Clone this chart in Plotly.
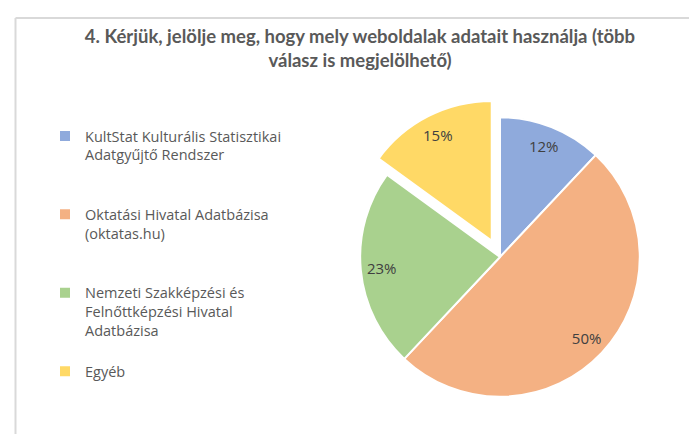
import plotly.graph_objects as go

labels = [
    "KultStat Kulturális Statisztikai<br>Adatgyűjtő Rendszer<br> <br> ",
    "Oktatási Hivatal Adatbázisa<br>(oktatas.hu)<br> <br> ",
    "Nemzeti Szakképzési és<br>Felnőttképzési Hivatal<br>Adatbázisa<br> ",
    "Egyéb",
]
values = [12, 50, 23, 15]
colors = ["#8FAADC", "#F4B183", "#A9D18E", "#FFD966"]
pulls = [0, 0, 0, 0.13]

W, H = 697, 434
cx, cy, half = 492, 249, 158
domain = dict(x=[(cx - half) / W, (cx + half) / W],
              y=[1 - (cy + half) / H, 1 - (cy - half) / H])

fig = go.Figure()
# visible pie slices
fig.add_trace(go.Pie(
    labels=labels,
    values=values,
    sort=False,
    direction="clockwise",
    rotation=0,
    pull=pulls,
    marker=dict(colors=colors, line=dict(color="white", width=2)),
    textinfo="none",
    hoverinfo="label+percent",
    domain=domain,
))
# transparent ring carrying the data labels near the outer edge
fig.add_trace(go.Pie(
    labels=labels,
    values=values,
    sort=False,
    direction="clockwise",
    rotation=0,
    pull=pulls,
    hole=0.7,
    marker=dict(colors=["rgba(0,0,0,0)"] * len(values), line=dict(width=0)),
    texttemplate="%{value}%",
    textposition="inside",
    insidetextorientation="horizontal",
    textfont=dict(family="Open Sans, sans-serif", size=15, color="#404040"),
    hoverinfo="skip",
    showlegend=False,
    domain=domain,
))

fig.update_layout(
    width=W, height=H,
    margin=dict(l=0, r=0, t=0, b=0),
    paper_bgcolor="white",
    plot_bgcolor="white",
    title=dict(
        text="<b>4. Kérjük, jelölje meg, hogy mely weboldalak adatait használja (több<br>válasz is megjelölhető)</b>",
        x=352 / W, xanchor="center",
        y=1 - 35 / H, yanchor="top",
        font=dict(family="Lato, sans-serif", size=18.5, color="#595959"),
    ),
    legend=dict(
        x=37 / W, xanchor="left",
        y=1 - 112 / H, yanchor="top",
        valign="top",
        itemwidth=30,
        font=dict(family="Open Sans, sans-serif", size=14.5, color="#595959"),
        bgcolor="rgba(0,0,0,0)",
    ),
    shapes=[
        dict(type="line", xref="paper", yref="paper",
             x0=7.5 / W, x1=1, y0=1 - 10 / H, y1=1 - 10 / H,
             line=dict(color="#D9D9D9", width=2)),
        dict(type="line", xref="paper", yref="paper",
             x0=7.5 / W, x1=7.5 / W, y0=0, y1=1 - 10 / H,
             line=dict(color="#D9D9D9", width=2)),
    ],
)

fig.write_html("out.html")
